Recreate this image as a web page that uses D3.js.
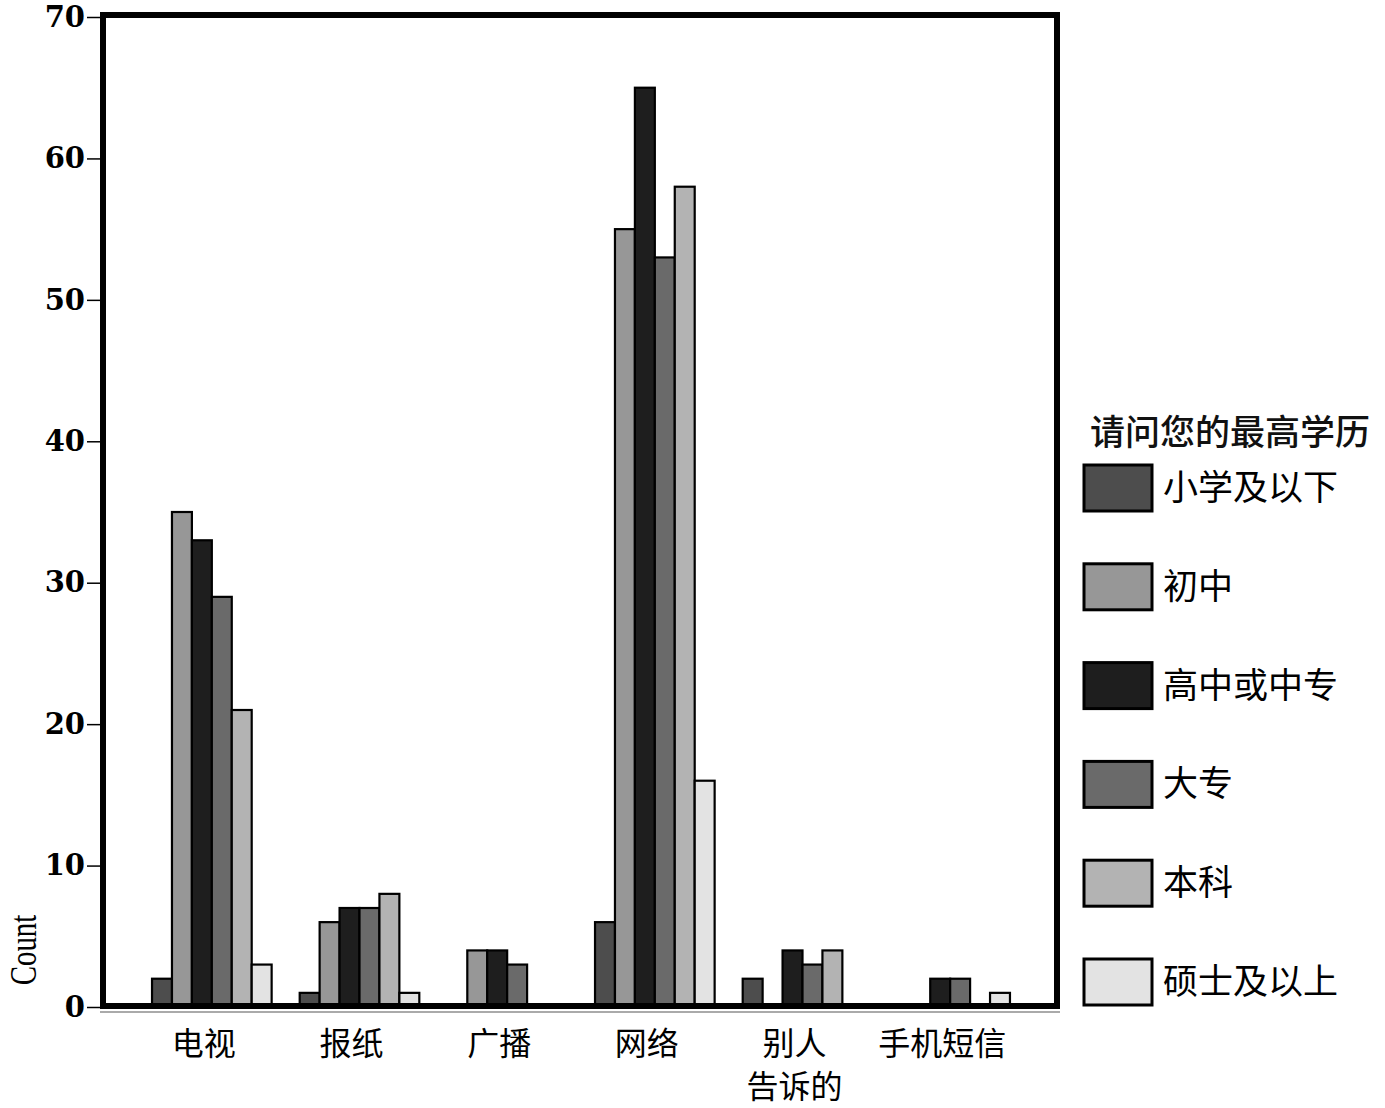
<!DOCTYPE html>
<html>
<head>
<meta charset="utf-8">
<script src="https://cdn.jsdelivr.net/npm/d3@7"></script>
<style>
  body { margin: 0; background: #fff; }
  svg { display: block; }
</style>
</head>
<body>
<svg id="chart" width="1385" height="1108"></svg>
<script>
// categories and series
var categories = ["电视", "报纸", "广播", "网络", "别人告诉的", "手机短信"];
var categoryLines = [["电视"], ["报纸"], ["广播"], ["网络"], ["别人", "告诉的"], ["手机短信"]];
var series = ["小学及以下", "初中", "高中或中专", "大专", "本科", "硕士及以上"];
var seriesColors = ["#4d4d4d", "#979797", "#1e1e1e", "#6a6a6a", "#b3b3b3", "#e3e3e3"];

// counts per category, one array per education level
var primary   = [2, 1, 0, 6, 2, 0];
var junior    = [35, 6, 4, 55, 0, 0];
var senior    = [33, 7, 4, 65, 4, 2];
var college   = [29, 7, 3, 53, 3, 2];
var bachelor  = [21, 8, 0, 58, 4, 0];
var master    = [3, 1, 0, 16, 0, 1];
var values = [primary, junior, senior, college, bachelor, master];

var yTicks = [0, 10, 20, 30, 40, 50, 60, 70];
var legendTitle = "请问您的最高学历";
var yLabel = "Count";

(function() {
    var svg = d3.select("#chart");
    var fLeft = 103, fRight = 1057, fTop = 15, fBottom = 1006;
    var cjk = "'Noto Sans CJK SC', sans-serif";

    var y = d3.scaleLinear().domain([0, 70]).range([fBottom + 1, 17]);

    var x0 = d3.scaleBand()
        .domain(categories)
        .range([138, 1024])
        .paddingInner(0.19)
        .paddingOuter(0.095);

    var x1 = d3.scaleBand()
        .domain(series)
        .range([0, x0.bandwidth()]);

    // shadow under the frame
    svg.append("line")
        .attr("x1", fLeft - 3).attr("x2", fRight + 3)
        .attr("y1", fBottom + 6).attr("y2", fBottom + 6)
        .attr("stroke", "#aaa").attr("stroke-width", 2);

    // bars
    var groups = svg.append("g").selectAll("g")
        .data(categories)
        .enter().append("g")
        .attr("transform", function(d) { return "translate(" + x0(d) + ",0)"; });

    groups.selectAll("rect")
        .data(function(d, ci) {
            return series.map(function(s, si) {
                return {s: s, color: seriesColors[si], v: values[si][ci]};
            }).filter(function(e) { return e.v > 0; });
        })
        .enter().append("rect")
        .attr("x", function(d) { return x1(d.s); })
        .attr("width", x1.bandwidth())
        .attr("y", function(d) { return y(d.v); })
        .attr("height", function(d) { return y(0) - y(d.v); })
        .attr("fill", function(d) { return d.color; })
        .attr("stroke", "#000")
        .attr("stroke-width", 2.2);

    // frame
    svg.append("rect")
        .attr("x", fLeft).attr("y", fTop)
        .attr("width", fRight - fLeft).attr("height", fBottom - fTop)
        .attr("fill", "none")
        .attr("stroke", "#000")
        .attr("stroke-width", 6);

    // y axis
    var yAxis = d3.axisLeft(y).tickValues(yTicks).tickSize(14).tickPadding(2);
    var gy = svg.append("g")
        .attr("transform", "translate(" + (fLeft - 2) + ",0)")
        .call(yAxis);
    gy.select(".domain").remove();
    gy.selectAll(".tick line").attr("stroke", "#000").attr("stroke-width", 1.5);
    gy.selectAll(".tick text")
        .attr("fill", "#000")
        .style("font-family", "'DejaVu Serif', serif")
        .style("font-weight", "bold")
        .style("font-size", "29px");

    svg.append("text")
        .attr("transform", "translate(36,950) rotate(-90) scale(0.85,1.1)")
        .attr("text-anchor", "middle")
        .style("font-family", "'Liberation Serif', serif")
        .style("font-size", "34px")
        .text(yLabel);

    // x category labels, one text per line
    categories.forEach(function(c, ci) {
        svg.append("g").selectAll("text")
            .data(categoryLines[ci])
            .enter().append("text")
            .attr("x", x0(c) + x0.bandwidth() / 2 - 8)
            .attr("y", function(d, i) { return 1055 + i * 43; })
            .attr("text-anchor", "middle")
            .style("font-family", cjk)
            .style("font-size", "32px")
            .text(function(d) { return d; });
    });

    // legend
    svg.append("text")
        .attr("x", 1090).attr("y", 445)
        .style("font-family", cjk)
        .style("font-size", "35px")
        .style("font-weight", "500")
        .attr("fill", "#111")
        .text(legendTitle);

    var legendY = d3.scalePoint().domain(series).range([488, 982]);

    var lg = svg.append("g").selectAll("g")
        .data(series)
        .enter().append("g")
        .attr("transform", function(d) { return "translate(1084," + legendY(d) + ")"; });

    lg.append("rect")
        .attr("x", 0).attr("y", -23)
        .attr("width", 68).attr("height", 46)
        .attr("fill", function(d, i) { return seriesColors[i]; })
        .attr("stroke", "#000")
        .attr("stroke-width", 3);

    lg.append("text")
        .attr("x", 79).attr("y", 12)
        .style("font-family", cjk)
        .style("font-size", "35px")
        .text(function(d) { return d; });
})();
</script>
</body>
</html>
